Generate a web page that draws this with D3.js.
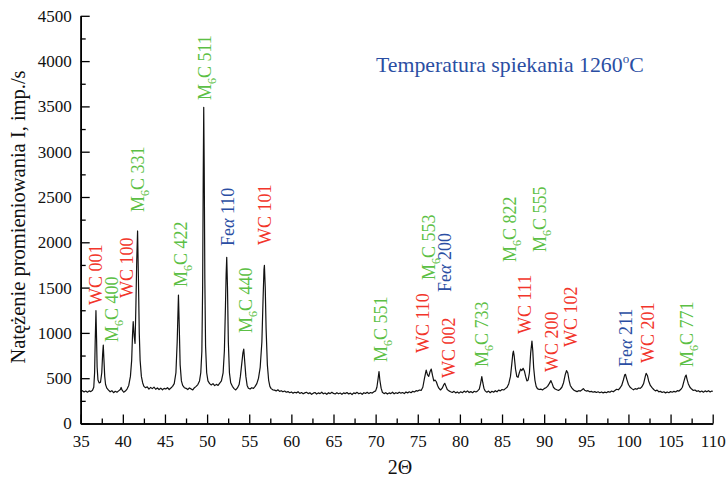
<!DOCTYPE html>
<html><head><meta charset="utf-8">
<script src="https://cdn.jsdelivr.net/npm/d3@7"></script>
<style>
html,body{margin:0;padding:0;background:#fff;}
svg{display:block;font-family:"Liberation Serif","Times New Roman",serif;}
</style></head>
<body><svg id="c" width="726" height="484"></svg>
<script>
// XRD pattern [2θ, intensity imp./s]
const pattern = [
[35.0,355],[35.2,362],[35.4,348],[35.6,358],[35.8,345],[36.0,360],[36.2,352],[36.4,366],[36.55,400],[36.65,560],[36.72,900],[36.81,1245],[36.88,950],[36.95,620],[37.05,480],[37.2,447],[37.35,455],[37.5,560],[37.6,760],[37.68,866],[37.75,720],[37.85,520],[37.95,430],[38.1,390],[38.3,368],[38.5,350],[38.7,362],[38.9,340],[39.1,355],[39.3,345],[39.5,360],[39.7,375],[39.8,398],[39.9,370],[40.1,345],[40.3,358],[40.5,380],[40.7,420],[40.9,520],[41.05,700],[41.15,980],[41.23,1124],[41.35,960],[41.45,885],[41.55,1300],[41.65,1800],[41.75,2125],[41.85,1600],[41.95,1000],[42.05,700],[42.2,520],[42.35,450],[42.5,410],[42.7,395],[42.9,405],[43.1,380],[43.3,398],[43.5,385],[43.7,402],[43.9,378],[44.1,392],[44.3,375],[44.5,390],[44.7,372],[44.9,388],[45.1,380],[45.3,395],[45.5,375],[45.7,392],[45.9,410],[46.1,440],[46.3,560],[46.45,900],[46.6,1418],[46.7,1050],[46.8,650],[46.95,470],[47.1,420],[47.3,395],[47.5,388],[47.7,375],[47.9,392],[48.1,382],[48.3,370],[48.5,395],[48.7,410],[48.9,430],[49.1,470],[49.25,560],[49.38,800],[49.47,1500],[49.54,2700],[49.6,3490],[49.66,2800],[49.73,1600],[49.82,850],[49.95,560],[50.1,470],[50.3,440],[50.5,425],[50.7,440],[50.9,418],[51.1,432],[51.3,420],[51.5,445],[51.7,470],[51.9,560],[52.05,800],[52.18,1300],[52.26,1650],[52.33,1834],[52.42,1500],[52.52,900],[52.65,560],[52.8,450],[53.0,410],[53.2,385],[53.4,370],[53.6,392],[53.8,430],[53.95,520],[54.1,650],[54.25,780],[54.35,822],[54.45,700],[54.6,520],[54.75,420],[54.9,390],[55.1,380],[55.3,395],[55.5,388],[55.7,410],[55.9,440],[56.1,500],[56.3,620],[56.5,900],[56.65,1400],[56.75,1700],[56.8,1746],[56.9,1500],[57.0,1050],[57.15,650],[57.3,480],[57.45,410],[57.6,385],[57.8,372],[58.0,368],[58.2,360],[58.4,372],[58.6,355],[58.8,362],[59.0,350],[59.2,358],[59.4,345],[59.6,352],[59.8,340],[60.0,348],[60.2,335],[60.4,345],[60.6,338],[60.8,350],[61.0,332],[61.2,342],[61.4,328],[61.6,338],[61.8,345],[62.0,330],[62.2,340],[62.4,322],[62.6,335],[62.8,342],[63.0,325],[63.2,338],[63.4,330],[63.6,345],[63.8,328],[64.0,336],[64.2,322],[64.4,340],[64.6,330],[64.8,345],[65.0,332],[65.2,326],[65.4,340],[65.6,328],[65.8,336],[66.0,322],[66.2,338],[66.4,330],[66.6,342],[66.8,326],[67.0,335],[67.2,320],[67.4,338],[67.6,330],[67.8,344],[68.0,328],[68.2,336],[68.4,322],[68.6,340],[68.8,332],[69.0,345],[69.2,330],[69.4,342],[69.6,336],[69.8,350],[70.0,360],[70.15,400],[70.3,500],[70.4,572],[70.5,480],[70.65,390],[70.8,345],[71.0,330],[71.2,340],[71.4,325],[71.6,338],[71.8,330],[72.0,345],[72.2,328],[72.4,340],[72.6,332],[72.8,346],[73.0,335],[73.2,342],[73.4,330],[73.6,348],[73.8,338],[74.0,350],[74.2,340],[74.4,355],[74.6,348],[74.8,362],[75.0,358],[75.2,370],[75.4,365],[75.6,400],[75.8,500],[76.0,590],[76.15,540],[76.3,520],[76.45,570],[76.6,601],[76.75,530],[76.9,470],[77.05,480],[77.2,461],[77.35,420],[77.5,390],[77.7,370],[77.9,390],[78.1,430],[78.2,444],[78.35,410],[78.5,375],[78.7,360],[78.9,350],[79.1,342],[79.3,355],[79.5,338],[79.7,348],[79.9,335],[80.1,350],[80.3,340],[80.5,358],[80.7,345],[80.9,360],[81.1,342],[81.3,352],[81.5,340],[81.7,356],[81.9,348],[82.1,360],[82.3,380],[82.45,440],[82.6,517],[82.72,450],[82.85,390],[83.0,360],[83.2,345],[83.4,358],[83.6,340],[83.8,355],[84.0,345],[84.2,362],[84.4,350],[84.6,368],[84.8,360],[85.0,375],[85.2,370],[85.4,385],[85.6,400],[85.8,440],[86.0,520],[86.15,650],[86.28,770],[86.35,800],[86.45,740],[86.6,600],[86.75,520],[86.9,510],[87.05,560],[87.2,600],[87.35,585],[87.5,609],[87.65,580],[87.8,520],[87.95,470],[88.1,480],[88.25,560],[88.4,780],[88.55,910],[88.65,800],[88.75,620],[88.9,480],[89.05,410],[89.2,385],[89.4,375],[89.6,380],[89.8,370],[90.0,385],[90.2,395],[90.4,410],[90.6,440],[90.8,473],[90.95,440],[91.1,400],[91.3,380],[91.5,372],[91.7,365],[91.9,378],[92.1,400],[92.3,450],[92.5,540],[92.65,583],[92.8,560],[92.95,480],[93.1,420],[93.3,390],[93.5,370],[93.7,360],[93.9,352],[94.1,362],[94.3,358],[94.5,372],[94.65,385],[94.8,368],[95.0,358],[95.2,362],[95.4,350],[95.6,355],[95.8,345],[96.0,352],[96.2,342],[96.4,350],[96.6,340],[96.8,348],[97.0,338],[97.2,346],[97.4,340],[97.6,352],[97.8,345],[98.0,358],[98.2,350],[98.4,365],[98.6,378],[98.8,372],[99.0,392],[99.2,420],[99.4,480],[99.55,535],[99.65,543],[99.8,490],[100.0,430],[100.2,400],[100.4,385],[100.6,372],[100.8,385],[101.0,378],[101.2,392],[101.4,388],[101.6,405],[101.8,440],[102.0,520],[102.1,554],[102.25,530],[102.4,470],[102.6,420],[102.8,395],[103.0,375],[103.2,360],[103.4,368],[103.6,350],[103.8,355],[104.0,342],[104.2,350],[104.4,338],[104.6,348],[104.8,340],[105.0,352],[105.2,345],[105.4,355],[105.6,348],[105.8,362],[106.0,358],[106.2,375],[106.4,400],[106.6,470],[106.75,520],[106.85,535],[106.95,490],[107.1,440],[107.3,400],[107.5,380],[107.7,365],[107.9,370],[108.1,355],[108.3,362],[108.5,348],[108.7,358],[108.9,345],[109.1,360],[109.3,350],[109.5,362],[109.7,348],[109.9,358],[110.0,352]
];

// Peak labels: phase, reflection, anchor 2θ and intensity level of label start
const labelPhase = ["WC","M6C","WC","M6C","M6C","M6C","Fe","M6C","WC","M6C","WC","M6C","Fe","WC","M6C","M6C","WC","M6C","WC","WC","Fe","WC","M6C"];
const labelHkl   = ["001","400","100","331","422","511","110","440","101","551","110","553","200","002","733","822","111","555","200","102","211","201","771"];
const labelTheta = [36.81,38.67,40.45,41.82,46.85,49.73,52.49,54.67,56.92,70.66,75.59,76.3,78.28,78.76,82.63,85.95,87.76,89.5,90.88,93.18,99.69,102.37,106.99];
const labelLevel = [1308,900,1385,2334,1507,3570,1959,999,1970,679,778,1584,1451,502,624,1783,988,1893,568,844,624,668,624];

const yTicks = [0,500,1000,1500,2000,2500,3000,3500,4000,4500];
const yMinor = [250,750,1250,1750,2250,2750,3250,3750,4250];
const xTicks = [35,40,45,50,55,60,65,70,75,80,85,90,95,100,105,110];
const xMinor = [37.5,42.5,47.5,52.5,57.5,62.5,67.5,72.5,77.5,82.5,87.5,92.5,97.5,102.5,107.5];

const colors = {WC:"#f2352b", M6C:"#5cbf45", Fe:"#2a4ea3"};

const svg = d3.select("#c");
const x = d3.scaleLinear().domain([35,110]).range([80.7,712.7]);
const y = d3.scaleLinear().domain([0,4500]).range([423.5,15.8]);

// pattern line
svg.append("path").datum(pattern)
  .attr("fill","none").attr("stroke","#111").attr("stroke-width",1.2)
  .attr("stroke-linejoin","round")
  .attr("d", d3.line().x(d=>x(d[0])).y(d=>y(d[1])));

// axes
function styleAxis(g){
  g.select(".domain").attr("stroke","#000").attr("stroke-width",1.6);
  g.selectAll(".tick line").attr("stroke","#000").attr("stroke-width",1.3);
  g.selectAll("text").attr("font-family","Liberation Serif").attr("font-size",17).attr("fill","#111");
}
svg.append("g").attr("transform",`translate(${x(35)},0)`)
  .call(d3.axisLeft(y).tickValues(yMinor).tickSizeInner(-5).tickSizeOuter(0).tickFormat(""))
  .call(styleAxis);
svg.append("g").attr("transform",`translate(${x(35)},0)`)
  .call(d3.axisLeft(y).tickValues(yTicks).tickSizeInner(-9).tickSizeOuter(0).tickPadding(9).tickFormat(d3.format("d")))
  .call(styleAxis);
svg.append("g").attr("transform",`translate(0,${y(0)})`)
  .call(d3.axisBottom(x).tickValues(xMinor).tickSizeInner(-5).tickSizeOuter(0).tickFormat(""))
  .call(styleAxis);
svg.append("g").attr("transform",`translate(0,${y(0)})`)
  .call(d3.axisBottom(x).tickValues(xTicks).tickSizeInner(-9).tickSizeOuter(0).tickPadding(11).tickFormat(d3.format("d")))
  .call(styleAxis);

// axis titles
svg.append("text").attr("x",400).attr("y",474).attr("text-anchor","middle")
  .attr("font-size",20).attr("fill","#111").text("2Θ");
svg.append("text").attr("transform","translate(18,217) rotate(-90)").attr("dy","0.35em")
  .attr("text-anchor","middle").attr("font-size",20.5).attr("fill","#111")
  .text("Natężenie promieniowania I, imp./s");

// title
const t = svg.append("text").attr("x",376).attr("y",72).attr("font-size",21.8).attr("fill","#2a4ea3");
t.append("tspan").text("Temperatura spiekania 1260");
t.append("tspan").attr("font-size",13).attr("dy",-9).text("o");
t.append("tspan").attr("dy",9).text("C");

// peak labels
labelPhase.forEach((p,i)=>{
  const tx = svg.append("text")
    .attr("transform",`translate(${x(labelTheta[i])+6},${y(labelLevel[i])}) rotate(-90)`)
    .attr("font-size",18).attr("fill",colors[p]);
  if(p==="M6C"){
    tx.append("tspan").text("M");
    tx.append("tspan").attr("font-size",12).attr("dy",5).text("6");
    tx.append("tspan").attr("dy",-5).text("C "+labelHkl[i]);
  } else if(p==="Fe"){
    tx.append("tspan").text("Fe");
    tx.append("tspan").attr("font-style","italic").text("α");
    tx.append("tspan").text(" "+labelHkl[i]);
  } else {
    tx.append("tspan").text("WC "+labelHkl[i]);
  }
});
</script></body></html>
